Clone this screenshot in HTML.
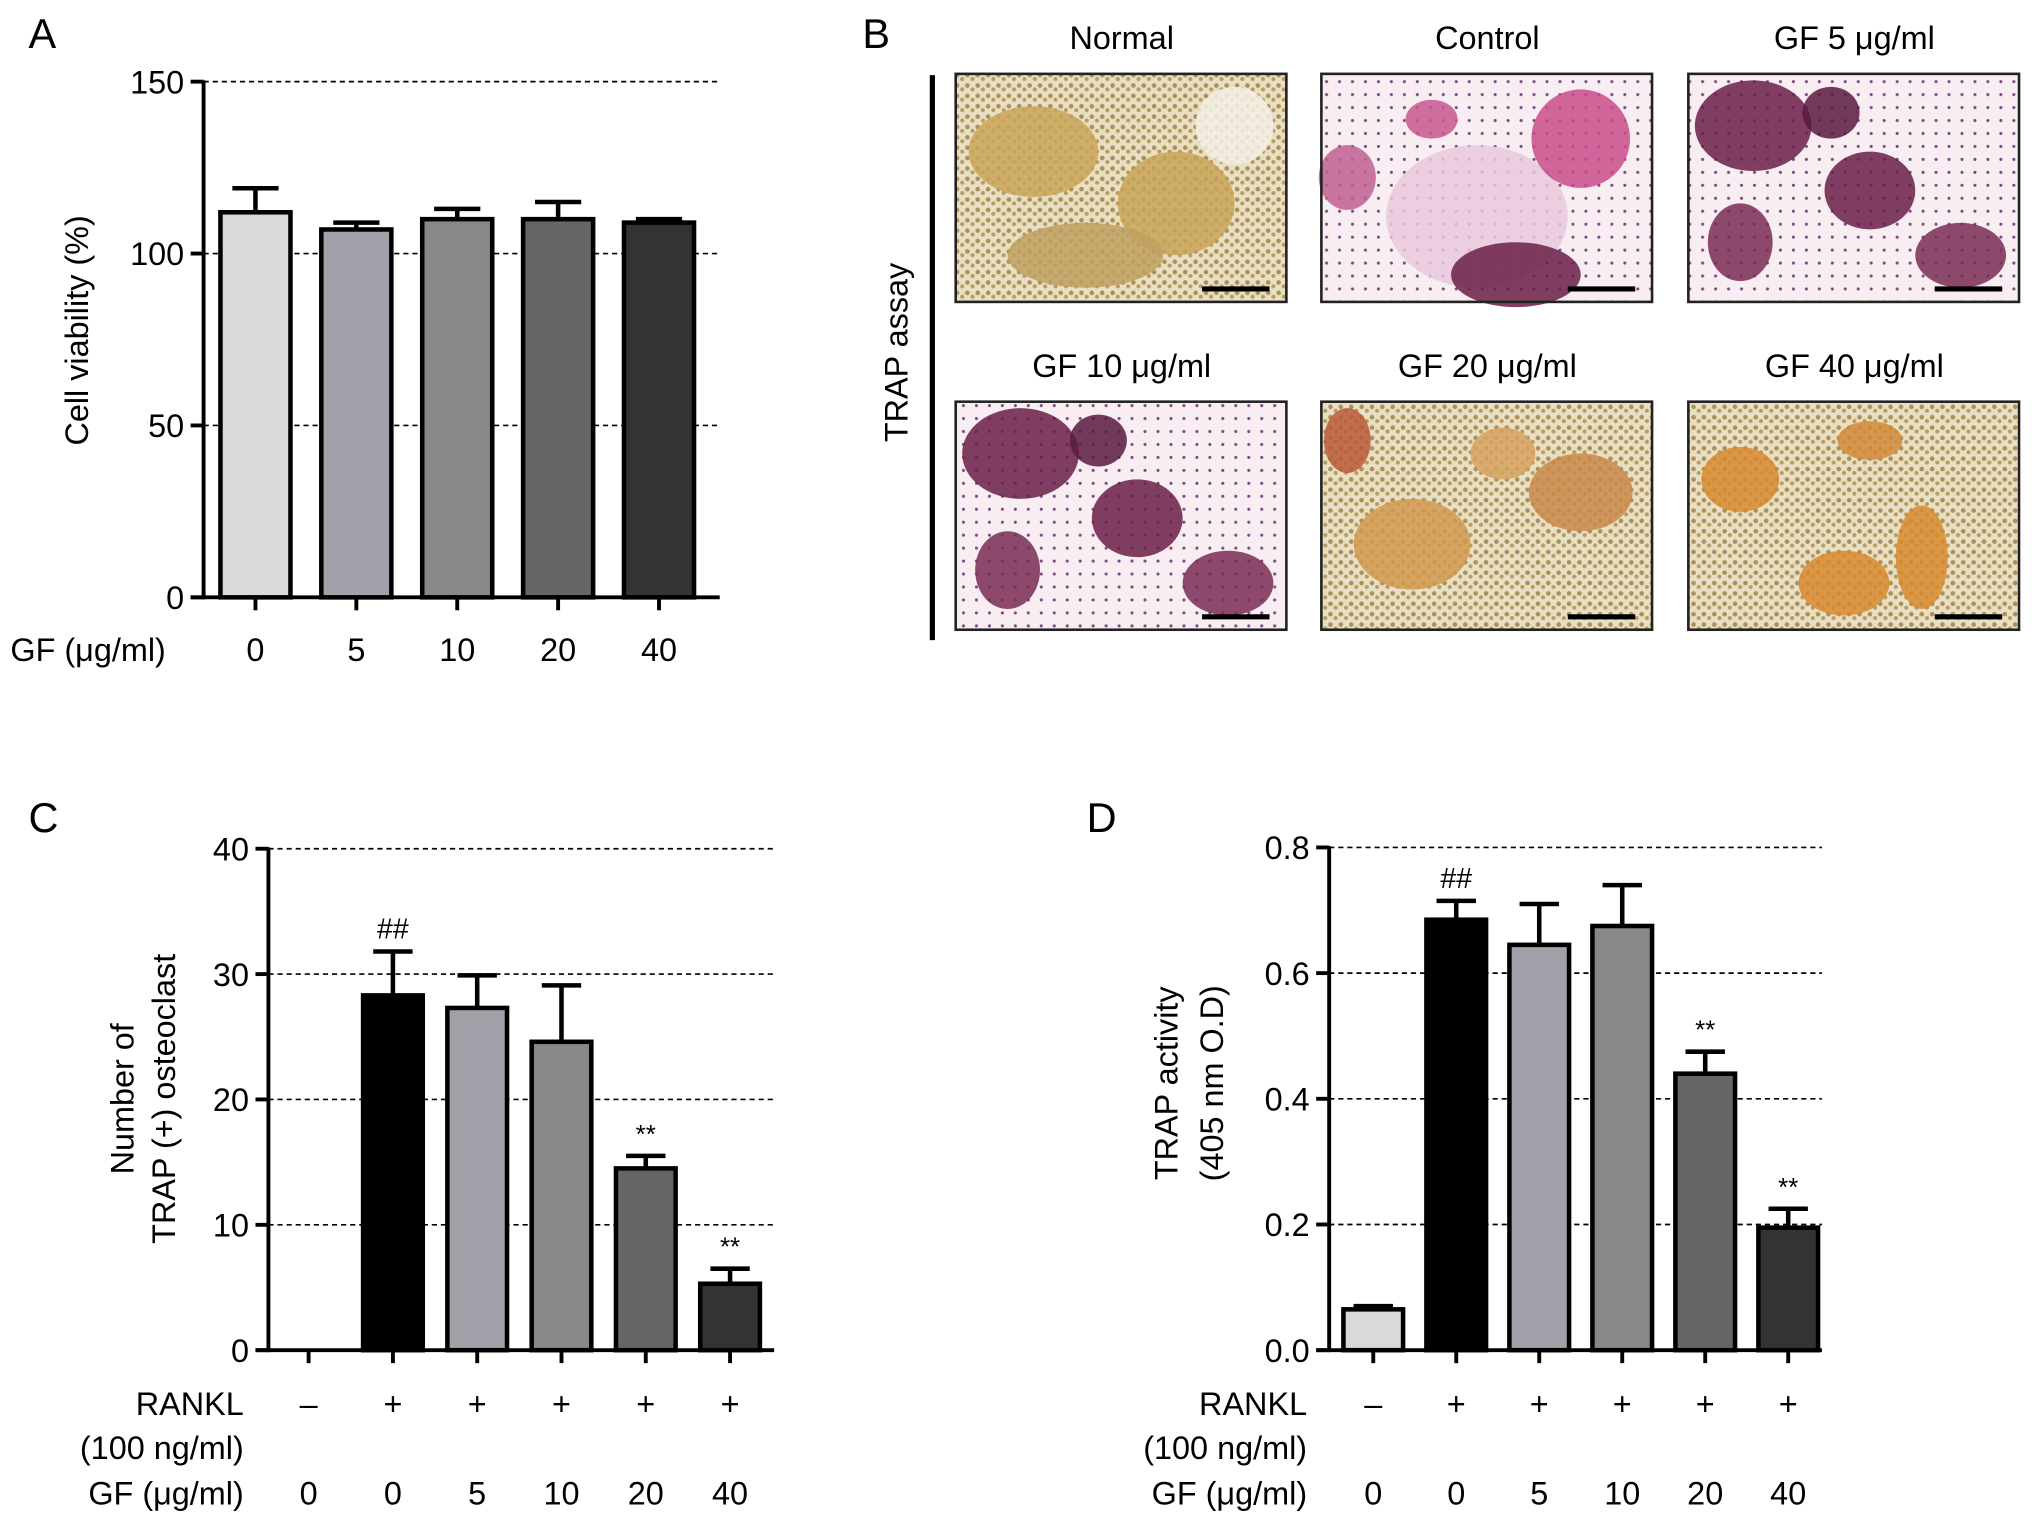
<!DOCTYPE html>
<html><head><meta charset="utf-8"><style>
html,body{margin:0;padding:0;background:#fff}
svg{display:block}
text{font-family:"Liberation Sans",sans-serif;fill:#000}
</style></head><body>
<svg id="fig" width="2032" height="1529" viewBox="0 0 1567 1180" preserveAspectRatio="none" xmlns="http://www.w3.org/2000/svg">
<defs>
<pattern id="speckBrown" width="8" height="8" patternUnits="userSpaceOnUse"><rect width="8" height="8" fill="#e9dfc4"/><circle cx="2" cy="2" r="1.8" fill="#a8925a"/><circle cx="6" cy="5" r="1.6" fill="#b79c5e"/></pattern>
<pattern id="speckPurple" width="10" height="10" patternUnits="userSpaceOnUse"><rect width="10" height="10" fill="#f8eef2"/><circle cx="3" cy="3" r="1.2" fill="#7a4a86"/></pattern>
</defs>
<g id="panels"></g>
</svg>
<script>
// Panel A data
const aCats = ["0","5","10","20","40"];
const aVals = [112, 107, 110, 110, 109];
const aErrs = [7, 2, 3, 5, 1];
const aTicks = [0, 50, 100, 150];
// Panel C data
const cGF = ["0","0","5","10","20","40"];
const cRankl = ["–","+","+","+","+","+"];
const cVals = [0, 28.3, 27.3, 24.6, 14.5, 5.3];
const cErrs = [0, 3.5, 2.6, 4.5, 1.0, 1.2];
const cAnn = ["", "##", "", "", "**", "**"];
const cTicks = [0, 10, 20, 30, 40];
// Panel D data
const dVals = [0.065, 0.685, 0.645, 0.675, 0.44, 0.195];
const dErrs = [0.005, 0.03, 0.065, 0.065, 0.035, 0.03];
const dAnn = ["", "##", "", "", "**", "**"];
const dTicks = [0.0, 0.2, 0.4, 0.6, 0.8];

const NS = "http://www.w3.org/2000/svg";
const root = document.getElementById('panels');
function el(tag, attrs, parent, txt){
  const e = document.createElementNS(NS, tag);
  for (const k in attrs) e.setAttribute(k, attrs[k]);
  if (txt !== undefined) e.textContent = txt;
  (parent || root).appendChild(e);
  return e;
}

function chart(o){
  const g = el('g', {});
  
  
  const y = v => o.y0 - (v - o.min) / (o.max - o.min) * (o.y0 - o.y1);
  o.ticks.forEach((t, i) => {
    if (t !== o.min) {
      const l = el('line', {x1: o.x0, x2: o.xEnd, y1: y(t), y2: y(t), stroke: '#000', 'stroke-width': 1.3, 'stroke-dasharray': '4,3'}, g);
      
      
    }
    const tl = el('line', {x1: o.x0 - 10, x2: o.x0, y1: y(t), y2: y(t), stroke: '#000', 'stroke-width': 3}, g);
    
    
    const tx = el('text', {x: o.x0 - 15, y: y(t) + 9, 'text-anchor': 'end', 'font-size': 25}, g, o.fmt(t));
    
    
  });
  const ya = el('line', {x1: o.x0, x2: o.x0, y1: o.y1 - 1, y2: o.y0 + 1.5, stroke: '#000', 'stroke-width': 3}, g);
  
  
  const xa = el('line', {x1: o.x0 - 10, x2: o.xEnd, y1: o.y0, y2: o.y0, stroke: '#000', 'stroke-width': 3}, g);
  
  
  o.vals.forEach((v, i) => {
    const cx = o.xFirst + i * o.step;
    const xt = el('line', {x1: cx, x2: cx, y1: o.y0, y2: o.y0 + 10, stroke: '#000', 'stroke-width': 3}, g);
    
    
    if (v > 0) {
      const top = y(v + o.errs[i]);
      const er = el('line', {x1: cx, x2: cx, y1: y(v), y2: top, stroke: '#000', 'stroke-width': 3.5}, g);
      
      
      const cap = el('line', {x1: cx - o.bw * 0.33, x2: cx + o.bw * 0.33, y1: top, y2: top, stroke: '#000', 'stroke-width': 3.5}, g);
      
      
      const b = el('rect', {x: cx - o.bw / 2, y: y(v), width: o.bw, height: o.y0 - y(v), fill: o.colors[i], stroke: '#000', 'stroke-width': 3.5}, g);
      
      
      if (o.ann && o.ann[i]) {
        const a = el('text', {x: cx, y: top - 10, 'text-anchor': 'middle', 'font-size': o.ann[i] === '##' ? 22 : 20}, g, o.ann[i]);
        
        
      }
    }
  });
  return {g, y};
}

function label(x, yy, s, txt, anchor, name, rot){
  const attrs = {x: x, y: yy, 'font-size': s, 'text-anchor': anchor || 'start'};
  if (rot) attrs.transform = 'rotate(-90 ' + x + ' ' + yy + ')';
  const t = el('text', attrs, root, txt);
  
  
  return t;
}

const grays5 = ['#d9d9d9', '#a1a1a9', '#888888', '#666666', '#333333'];
// Panel A
label(22, 37, 32, 'A', 'start', 'panel-label-a');
chart({name: 'chart-a', x0: 157, xEnd: 555, y0: 461, y1: 63, min: 0, max: 150, ticks: aTicks,
  fmt: t => String(t), vals: aVals, errs: aErrs, xFirst: 197, step: 77.8, bw: 54, colors: grays5});
label(68, 255, 25, 'Cell viability (%)', 'middle', 'y-axis-title-a', true);
label(8, 510, 25, 'GF (μg/ml)', 'start', 'x-axis-title-a');
aCats.forEach((c, i) => label(197 + i * 77.8, 510, 25, c, 'middle', 'x-tick-label'));

// Panel B
label(665, 37, 32, 'B', 'start', 'panel-label-b');
(function(){
  const l = el('line', {x1: 719, x2: 719, y1: 58, y2: 494, stroke: '#000', 'stroke-width': 4});
  
  
  label(700, 272, 25, 'TRAP assay', 'middle', 'trap-assay-label', true);
  const titles = ['Normal', 'Control', 'GF 5 μg/ml', 'GF 10 μg/ml', 'GF 20 μg/ml', 'GF 40 μg/ml'];
  const kinds = ['brown', 'pink', 'purple', 'purple', 'orange', 'orange2'];
  const xs = [737, 1019, 1302];
  const ys = [57, 310];
  titles.forEach((t, i) => {
    const x = xs[i % 3], yy = ys[Math.floor(i / 3)];
    label(x + 128, yy - 19, 25, t, 'middle', 'micrograph-title');
    const g = el('g', {});
    
    
    const k = kinds[i];
    el('rect', {x: x, y: yy, width: 255, height: 176, fill: k === 'brown' || k === 'orange' || k === 'orange2' ? 'url(#speckBrown)' : 'url(#speckPurple)'}, g);
    const blobs = {
      brown: [['#c9a659', 60, 60, 50, 35], ['#c8a457', 170, 100, 45, 40], ['#bfa060', 100, 140, 60, 25], ['#f5f0e6', 215, 40, 30, 30]],
      pink: [['#e9c8dc', 120, 110, 70, 55], ['#c84c8a', 200, 50, 38, 38], ['#c06090', 20, 80, 22, 25], ['#6a1f48', 150, 155, 50, 25], ['#c8578f', 85, 35, 20, 15]],
      purple: [['#6a1f48', 50, 40, 45, 35], ['#6a1f48', 140, 90, 35, 30], ['#7a2b55', 210, 140, 35, 25], ['#7a2b55', 40, 130, 25, 30], ['#5a1a40', 110, 30, 22, 20]],
      orange: [['#d29a50', 70, 110, 45, 35], ['#c9894a', 200, 70, 40, 30], ['#b85a3a', 20, 30, 18, 25], ['#d6a260', 140, 40, 25, 20]],
      orange2: [['#d88a30', 40, 60, 30, 25], ['#d88a30', 120, 140, 35, 25], ['#d88a30', 180, 120, 20, 40], ['#d38a38', 140, 30, 25, 15]]
    };
    blobs[k].forEach(b => el('ellipse', {cx: x + b[1], cy: yy + b[2], rx: b[3], ry: b[4], fill: b[0], opacity: 0.85}, g));
    el('rect', {x: x, y: yy, width: 255, height: 176, fill: 'none', stroke: '#222', 'stroke-width': 2}, g);
    const sb = el('line', {x1: x + 190, x2: x + 242, y1: yy + 166, y2: yy + 166, stroke: '#000', 'stroke-width': 4});
    
    
  });
})();

// Panel C
const grays6 = ['#d9d9d9', '#000000', '#a1a1a9', '#888888', '#666666', '#333333'];
label(22, 642, 32, 'C', 'start', 'panel-label-c');
chart({name: 'chart-c', x0: 207, xEnd: 597, y0: 1042, y1: 655, min: 0, max: 40, ticks: cTicks,
  fmt: t => String(t), vals: cVals, errs: cErrs, ann: cAnn, xFirst: 238, step: 65, bw: 46, colors: grays6});
label(103, 848, 25, 'Number of', 'middle', 'y-axis-title-c-line1', true);
label(135, 848, 25, 'TRAP (+) osteoclast', 'middle', 'y-axis-title-c-line2', true);
label(188, 1092, 25, 'RANKL', 'end', 'rankl-label-c');
label(188, 1126, 25, '(100 ng/ml)', 'end', 'rankl-conc-c');
label(188, 1161, 25, 'GF (μg/ml)', 'end', 'gf-label-c');
cRankl.forEach((r, i) => label(238 + i * 65, 1092, 25, r, 'middle', 'rankl-sign'));
cGF.forEach((c, i) => label(238 + i * 65, 1161, 25, c, 'middle', 'x-tick-label'));

// Panel D
label(838, 642, 32, 'D', 'start', 'panel-label-d');
chart({name: 'chart-d', x0: 1025, xEnd: 1405, y0: 1042, y1: 654, min: 0, max: 0.8, ticks: dTicks,
  fmt: t => t.toFixed(1), vals: dVals, errs: dErrs, ann: dAnn, xFirst: 1059, step: 64, bw: 46, colors: grays6});
label(908, 836, 25, 'TRAP activity', 'middle', 'y-axis-title-d-line1', true);
label(943, 836, 25, '(405 nm O.D)', 'middle', 'y-axis-title-d-line2', true);
label(1008, 1092, 25, 'RANKL', 'end', 'rankl-label-d');
label(1008, 1126, 25, '(100 ng/ml)', 'end', 'rankl-conc-d');
label(1008, 1161, 25, 'GF (μg/ml)', 'end', 'gf-label-d');
cRankl.forEach((r, i) => label(1059 + i * 64, 1092, 25, r, 'middle', 'rankl-sign'));
cGF.forEach((c, i) => label(1059 + i * 64, 1161, 25, c, 'middle', 'x-tick-label'));
</script>
</body></html>
